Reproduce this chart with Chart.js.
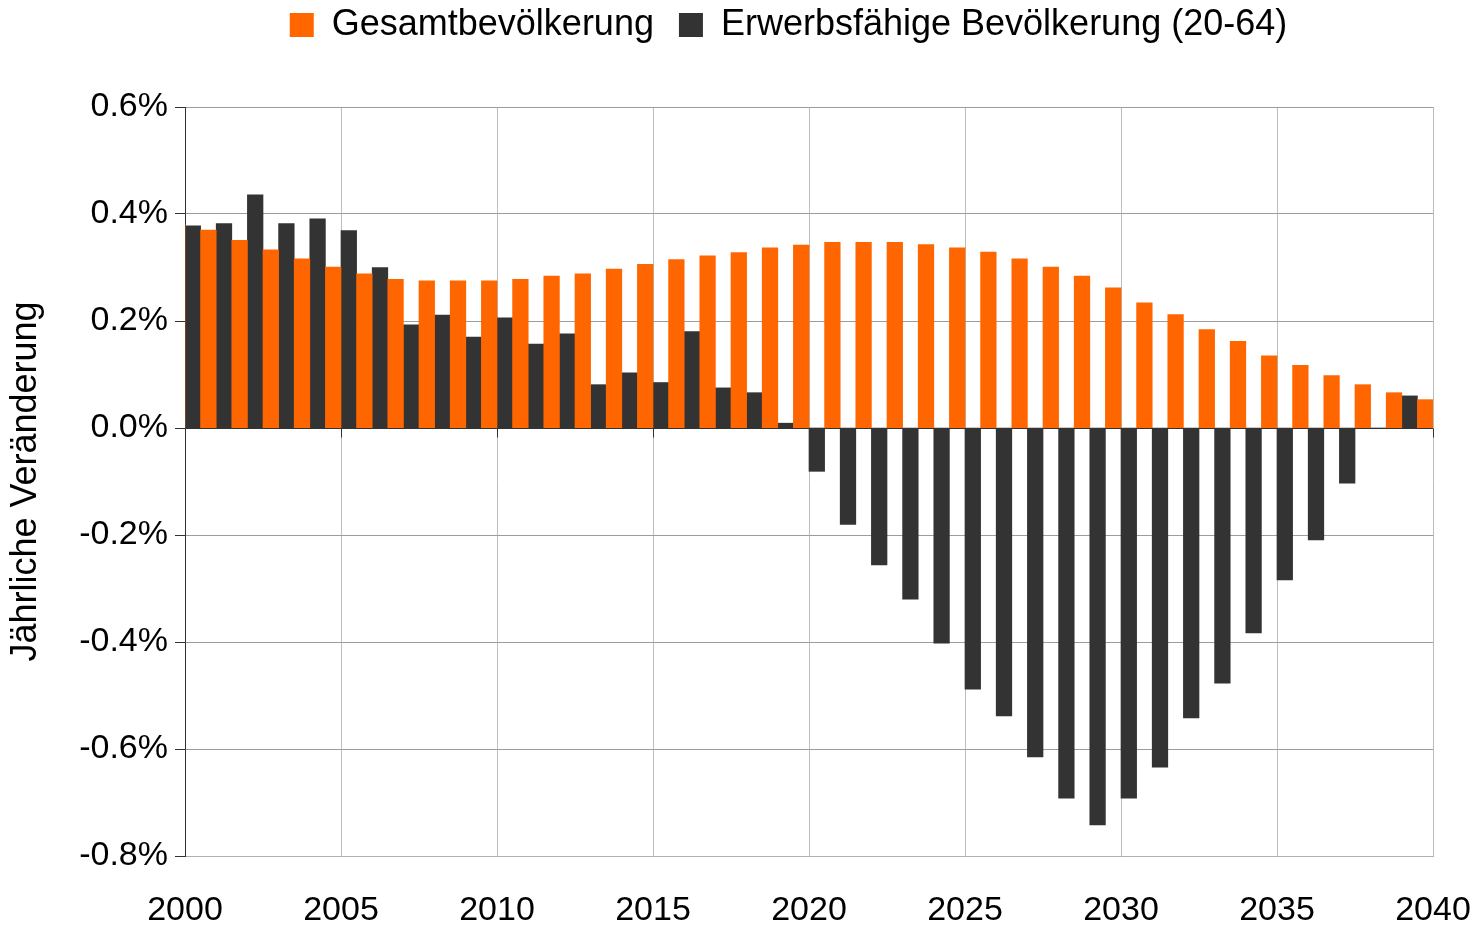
<!DOCTYPE html>
<html lang="de">
<head>
<meta charset="utf-8">
<title>Jährliche Veränderung der Bevölkerung</title>
<script src="https://cdn.jsdelivr.net/npm/chart.js@4.4.1/dist/chart.umd.min.js"></script>
<style>
    html, body { margin: 0; padding: 0; background: #ffffff; }
    #wrap { width: 1478px; height: 927px; position: relative; }
</style>
</head>
<body>
<div id="wrap"><canvas id="popChart"></canvas></div>
<script>
// Jahre (x-Achse)
const years = [
    2000, 2001, 2002, 2003, 2004, 2005, 2006, 2007, 2008, 2009,
    2010, 2011, 2012, 2013, 2014, 2015, 2016, 2017, 2018, 2019,
    2020, 2021, 2022, 2023, 2024, 2025, 2026, 2027, 2028, 2029,
    2030, 2031, 2032, 2033, 2034, 2035, 2036, 2037, 2038, 2039, 2040
];

// Gesamtbevölkerung, jährliche Veränderung in %
const totalPop = [
    0.380, 0.370, 0.351, 0.333, 0.316, 0.301, 0.288, 0.278, 0.275, 0.275,
    0.275, 0.278, 0.284, 0.288, 0.297, 0.306, 0.315, 0.322, 0.328, 0.337,
    0.342, 0.347, 0.347, 0.347, 0.343, 0.337, 0.329, 0.316, 0.301, 0.284,
    0.262, 0.234, 0.212, 0.184, 0.162, 0.135, 0.117, 0.098, 0.081, 0.066, 0.053
];

// Erwerbsfähige Bevölkerung (20-64), jährliche Veränderung in %
const workingPop = [
    0.378, 0.382, 0.436, 0.382, 0.391, 0.369, 0.300, 0.193, 0.211, 0.170,
    0.206, 0.157, 0.176, 0.081, 0.103, 0.085, 0.180, 0.075, 0.066, 0.009,
    -0.081, -0.180, -0.256, -0.320, -0.402, -0.488, -0.538, -0.615, -0.692, -0.742,
    -0.692, -0.634, -0.542, -0.477, -0.383, -0.284, -0.209, -0.103, 0.000, 0.060, 0.050
];

const seriesNames = ['Gesamtbevölkerung', 'Erwerbsfähige Bevölkerung (20-64)'];

const colors = {
    orange: '#ff6600',
    dark: '#333333',
    gridH: '#9c9c9c',
    gridV: '#bdbdbd',
    axis: '#333333',
    text: '#000000'
};

const fontFamily = "'Liberation Sans', Arial, sans-serif";

// Legende: feste Höhe, leicht nach rechts und oben verschoben
const legendLayout = {
    id: 'legendLayout',
    beforeInit(chart) {
        const origFit = chart.legend.fit;
        chart.legend.fit = function() {
            origFit.call(this);
            this.height = 107;
        };
    },
    afterLayout(chart) {
        chart.legend.left += 72;
        chart.legend.right += 72;
        chart.legend.top -= 18;
    }
};

// Nulllinie über den Balken + kleine Striche nach unten
const zeroLine = {
    id: 'zeroLine',
    afterDatasetsDraw(chart) {
        const {ctx, chartArea, scales} = chart;
        const y0 = Math.round(scales.y.getPixelForValue(0)) + 0.5;
        ctx.save();
        ctx.strokeStyle = colors.axis;
        ctx.lineWidth = 1;
        ctx.beginPath();
        ctx.moveTo(chartArea.left, y0);
        ctx.lineTo(chartArea.right, y0);
        scales.x.ticks.forEach(t => {
            const x = Math.round(scales.x.getPixelForValue(t.value)) + 0.5;
            ctx.moveTo(x, y0);
            ctx.lineTo(x, y0 + 9);
        });
        ctx.stroke();
        ctx.restore();
    }
};

function initChart() {
    const ctx = document.getElementById('popChart');

    new Chart(ctx, {
        type: 'bar',
        data: {
            labels: years,
            datasets: [
                {
                    label: seriesNames[0],
                    data: totalPop,
                    backgroundColor: colors.orange,
                    borderWidth: 0,
                    categoryPercentage: 1,
                    barPercentage: 1,
                    clip: 0
                },
                {
                    label: seriesNames[1],
                    data: workingPop,
                    backgroundColor: colors.dark,
                    borderWidth: 0,
                    categoryPercentage: 1,
                    barPercentage: 1,
                    clip: 0
                }
            ]
        },
        options: {
            responsive: true,
            maintainAspectRatio: false,
            animation: false,
            layout: {
                padding: { left: 0, right: 45, top: 0, bottom: 0 }
            },
            plugins: {
                legend: {
                    position: 'top',
                    align: 'center',
                    labels: {
                        color: colors.text,
                        boxWidth: 24,
                        boxHeight: 24,
                        padding: 25,
                        font: { family: fontFamily, size: 36 }
                    }
                },
                tooltip: { enabled: false }
            },
            scales: {
                x: {
                    type: 'linear',
                    min: 2000,
                    max: 2040,
                    offset: false,
                    afterFit: scale => { scale.height = 71; },
                    grid: {
                        offset: false,
                        color: colors.gridV,
                        drawTicks: true,
                        tickLength: 34,
                        tickColor: 'rgba(0,0,0,0)'
                    },
                    border: {
                        display: true,
                        color: '#b0b0b0',
                        width: 1
                    },
                    ticks: {
                        stepSize: 5,
                        maxRotation: 0,
                        autoSkip: false,
                        padding: 0,
                        color: colors.text,
                        font: { family: fontFamily, size: 34 },
                        callback: value => String(value)
                    }
                },
                y: {
                    min: -0.8,
                    max: 0.6,
                    afterFit: scale => { scale.width = 185; },
                    grid: {
                        color: c => (Math.abs(c.tick.value) < 1e-9 ? colors.axis : colors.gridH),
                        tickColor: colors.axis,
                        tickLength: 10
                    },
                    border: {
                        display: true,
                        color: colors.axis,
                        width: 1
                    },
                    ticks: {
                        stepSize: 0.2,
                        padding: 7,
                        color: colors.text,
                        font: { family: fontFamily, size: 34 },
                        callback: value => (Math.abs(value) < 1e-9 ? '0.0' : value.toFixed(1)) + '%'
                    },
                    title: {
                        display: true,
                        text: 'Jährliche Veränderung',
                        color: colors.text,
                        padding: { top: 4, bottom: 0 },
                        font: { family: fontFamily, size: 36 }
                    }
                }
            }
        },
        plugins: [legendLayout, zeroLine]
    });
}

document.addEventListener('DOMContentLoaded', initChart);
</script>
</body>
</html>
